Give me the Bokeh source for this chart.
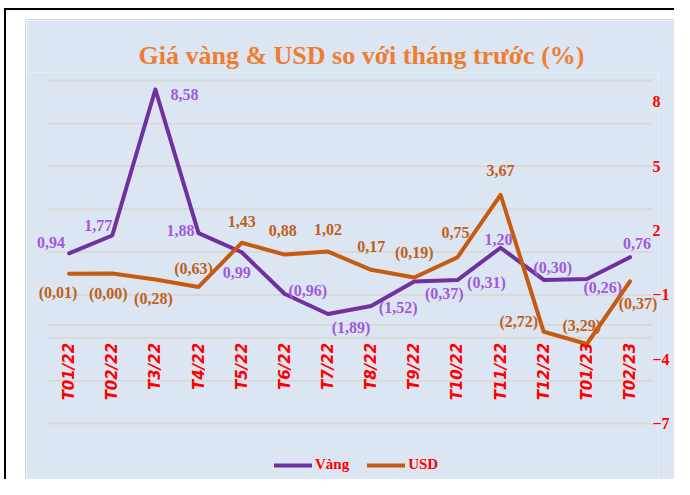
import math
from bokeh.plotting import figure
from bokeh.models import FixedTicker, Range1d, Div
from bokeh.layouts import column, row
from bokeh.core.properties import value
from bokeh.embed import file_html
from bokeh.resources import INLINE

# ---- data ----
months = ["T01/22", "T02/22", "T3/22", "T4/22", "T5/22", "T6/22", "T7/22",
          "T8/22", "T9/22", "T10/22", "T11/22", "T12/22", "T01/23", "T02/23"]
gold = [0.94, 1.77, 8.58, 1.88, 0.99, -0.96, -1.89, -1.52, -0.37, -0.31, 1.20, -0.30, -0.26, 0.76]
usd = [-0.01, -0.004, -0.28, -0.63, 1.43, 0.88, 1.02, 0.17, -0.19, 0.75, 3.67, -2.72, -3.29, -0.37]
right_ticks = [8, 5, 2, -1, -4, -7]
grid_values = [-7, -5, -3, -1, 1, 3, 5, 7, 9]
axis_cross = -2.4

# ---- label placement (screen px offsets) ----
gold_dx = [-18, -14, 29, -18, -5, 23, 23, 27, 30, 29, -2, 9, 16, 7]
gold_dy = [-11, -10, 5, -3, 20, -4, 14, 1, 12, 2, -8, -12, 8, -14]
usd_dx = [-11, -4, -2, -5, 0, -2, 0, 0, 0, -2, 0, -25, -5, 8]
usd_dy = [19, 20, 19, -18, -21, -24, -22, -23, -25, -25, -24, -10, -18, 22]

BG = "#DCE6F2"
GOLD_LINE = "#7030A0"
GOLD_TEXT = "#A05ADC"
USD_LINE = "#C55A11"
USD_TEXT = "#C0601A"
GRID = "#D9D9D9"


def fmt(v):
    s = f"{abs(v):.2f}".replace(".", ",")
    return f"({s})" if v < 0 else s


n = len(months)
idx = list(range(n))

p = figure(width=648, height=459, x_range=Range1d(-0.987, 13.66), y_range=Range1d(-9.61, 9.373),
           output_backend="svg", toolbar_location=None, y_axis_location="right",
           x_axis_location=None, min_border_left=0, min_border_right=16,
           min_border_top=52, min_border_bottom=0,
           background_fill_color=BG, border_fill_color=BG, outline_line_color=None)

# title
p.title.text = "Giá vàng & USD so với tháng trước (%)"
p.title.align = "left"
p.title.offset = 112
p.title.standoff = 5
p.title.text_font = "Liberation Serif"
p.title.text_font_size = "26px"
p.title.text_font_style = "bold"
p.title.text_color = "#EE7D31"

# grid & axis
p.xgrid.visible = False
p.ygrid.visible = False
p.segment(x0=[-0.5] * len(grid_values), x1=[n - 0.5] * len(grid_values),
          y0=grid_values, y1=grid_values, line_color=GRID, line_width=2)
p.segment(x0=[-0.5], x1=[n - 0.5], y0=[axis_cross], y1=[axis_cross],
          line_color=GRID, line_width=2)

p.yaxis.ticker = FixedTicker(ticks=right_ticks)
p.yaxis.axis_line_color = None
p.yaxis.major_tick_line_color = None
p.yaxis.minor_tick_line_color = None
p.yaxis.major_tick_out = 0
p.yaxis.major_tick_in = 0
p.yaxis.minor_tick_out = 0
p.yaxis.major_label_standoff = -6
p.yaxis.major_label_text_font = "Liberation Serif"
p.yaxis.major_label_text_font_style = "bold"
p.yaxis.major_label_text_font_size = "16px"
p.yaxis.major_label_text_color = "#FF0000"

# lines
p.line(idx, gold, line_color=GOLD_LINE, line_width=4, line_join="round", line_cap="round",
       legend_label="Vàng")
p.line(idx, usd, line_color=USD_LINE, line_width=4, line_join="round", line_cap="round",
       legend_label="USD")

# data labels
p.text(idx, gold, text=[fmt(v) for v in gold], x_offset=gold_dx, y_offset=gold_dy,
       text_align="center", text_baseline="middle", text_font=value("Liberation Serif"),
       text_font_style="bold", text_font_size="16px", text_color=GOLD_TEXT)
p.text(idx, usd, text=[fmt(v) for v in usd], x_offset=usd_dx, y_offset=usd_dy,
       text_align="center", text_baseline="middle", text_font=value("Liberation Serif"),
       text_font_style="bold", text_font_size="16px", text_color=USD_TEXT)

# category labels
p.text(idx, [axis_cross] * n, text=months, angle=math.pi / 2,
       text_align="right", text_baseline="middle", y_offset=18,
       text_font=value("DejaVu Sans"), text_font_style="bold italic",
       text_font_size="15px", text_color="#FF0000")

# legend
lg = p.legend[0]
lg.location = (248, 6)
lg.orientation = "horizontal"
lg.label_text_font = "Liberation Serif"
lg.label_text_font_style = "bold"
lg.label_text_font_size = "15px"
lg.label_text_color = "#FF0000"
lg.glyph_width = 38
lg.glyph_height = 16
lg.label_standoff = 3
lg.spacing = 18
lg.padding = 0
lg.margin = 0
lg.background_fill_alpha = 0
lg.border_line_color = None

# outer white frame with black border lines (as in the source image)
top_bar = Div(width=674, height=20, styles={
    "background": (
        "linear-gradient(#D4D4D4, #D4D4D4) 26px 19px / 648px 1px no-repeat, "
        "linear-gradient(black, black) 4px 9px / 2px 11px no-repeat, "
        "linear-gradient(black, black) 4px 8px / 670px 2px no-repeat, white"),
    "margin": "0", "padding": "0"})
left_bar = Div(width=26, height=459, styles={
    "background": (
        "linear-gradient(#D4D4D4, #D4D4D4) 25px 0 / 1px 100% no-repeat, "
        "linear-gradient(black, black) 4px 0 / 2px 100% no-repeat, white"),
    "margin": "0", "padding": "0"})

root = column(top_bar, row(left_bar, p, spacing=0), spacing=0)

open("out.html", "w").write(file_html(root, INLINE))
